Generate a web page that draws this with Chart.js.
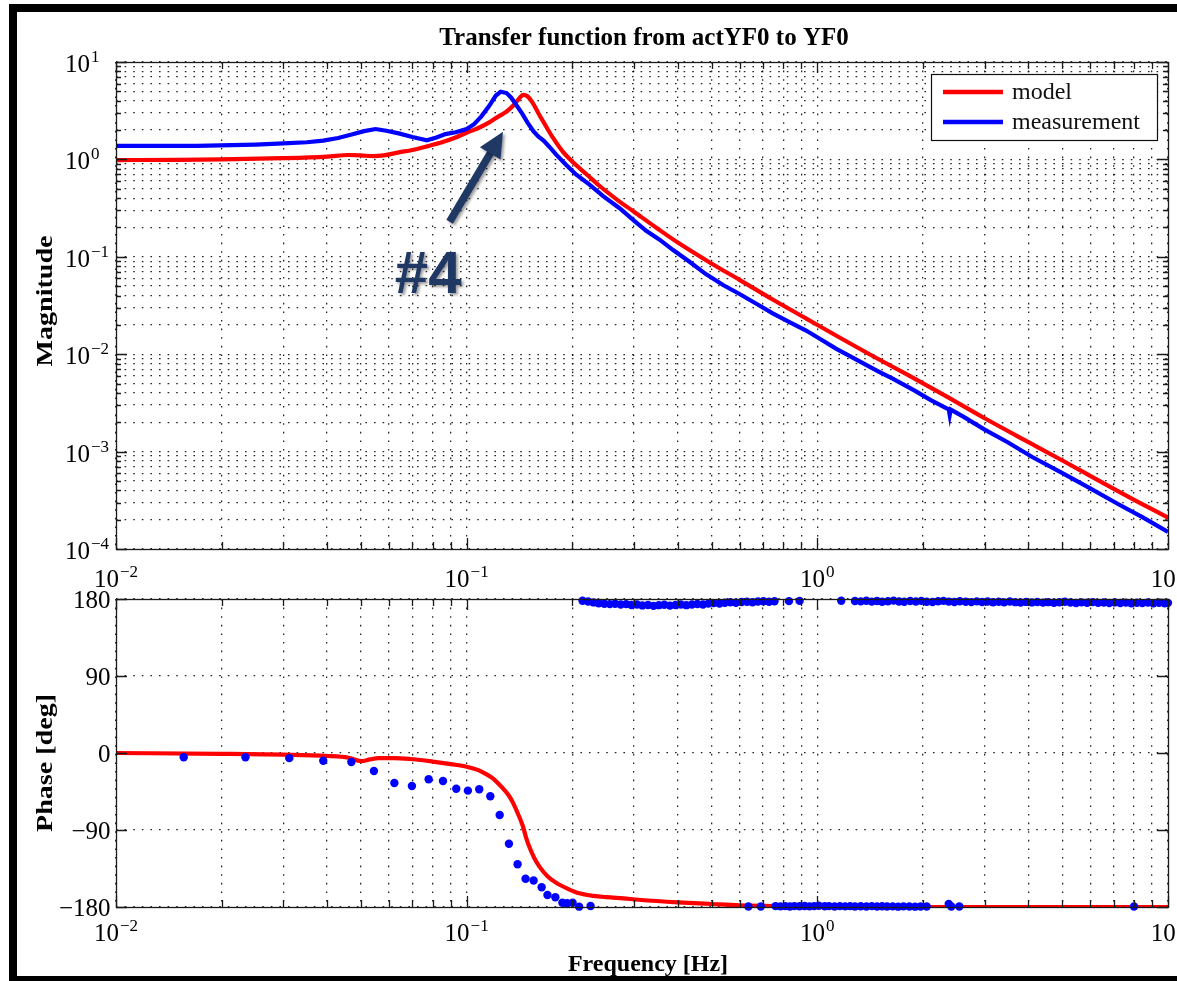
<!DOCTYPE html>
<html>
<head>
<meta charset="utf-8">
<title>Transfer function from actYF0 to YF0</title>
<script src="https://cdn.jsdelivr.net/npm/chart.js@4.4.0/dist/chart.umd.min.js"></script>
<style>
  html, body { margin: 0; padding: 0; background: #fff; overflow: hidden; }
  #wrap { position: relative; width: 1177px; height: 981px; }
  #wrap canvas { position: absolute; left: 0; top: 0; }
  #frame { position: absolute; left: 9px; top: 4px; width: 1200px; height: 980px;
           border: 8px solid #000; box-sizing: border-box; pointer-events: none; }
</style>
</head>
<body>
<div id="wrap">
  <canvas id="phaseChart" width="1177" height="981"></canvas>
  <canvas id="magChart" width="1177" height="981"></canvas>
  <div id="frame"></div>
</div>
<script>
// ---- data (frequency in Hz) ----
const freqTicks = [0.01, 0.1, 1, 10];
const magTicks = [1e-4, 1e-3, 1e-2, 1e-1, 1, 10];
const phaseTicks = [-180, -90, 0, 90, 180];

const modelFreq = [0.01, 0.015, 0.02, 0.03, 0.04, 0.046, 0.05, 0.054, 0.058, 0.064,
  0.07, 0.077, 0.085, 0.093, 0.1, 0.108, 0.116, 0.123, 0.13, 0.136,
  0.141, 0.145, 0.149, 0.154, 0.16, 0.167, 0.176, 0.188, 0.2, 0.22,
  0.24, 0.27, 0.3, 0.35, 0.4, 0.5, 0.6, 0.75, 0.93, 1.15,
  1.4, 1.8, 2.3, 3, 4, 5, 6.5, 8, 10];
const modelMag = [0.985, 0.99, 1.0, 1.03, 1.07, 1.11, 1.1, 1.08, 1.1, 1.18,
  1.25, 1.36, 1.5, 1.68, 1.88, 2.1, 2.4, 2.75, 3.1, 3.6,
  4.2, 4.6, 4.45, 3.85, 3.0, 2.3, 1.68, 1.2, 0.95, 0.7,
  0.53, 0.38, 0.29, 0.195, 0.14, 0.085, 0.058, 0.036, 0.0232, 0.015,
  0.0101, 0.0062, 0.0038, 0.0022, 0.00125, 0.00081, 0.00048, 0.00032, 0.00021];

const measFreq = [0.01, 0.017, 0.025, 0.03, 0.035, 0.039, 0.043, 0.047, 0.051, 0.055,
  0.059, 0.064, 0.07, 0.077, 0.082, 0.087, 0.093, 0.1, 0.105, 0.11,
  0.116, 0.121, 0.125, 0.13, 0.134, 0.139, 0.144, 0.149, 0.155, 0.16,
  0.166, 0.172, 0.18, 0.192, 0.205, 0.224, 0.245, 0.273, 0.3, 0.325,
  0.355, 0.387, 0.43, 0.482, 0.54, 0.6, 0.67, 0.746, 0.83, 0.929,
  1.03, 1.13, 1.3, 1.5, 1.64, 1.9, 2.1, 2.33, 2.37, 2.385,
  2.4, 2.6, 3.0, 3.5, 4.1, 5, 6, 7.2, 8.5, 10];
const measMag = [1.38, 1.38, 1.42, 1.46, 1.5, 1.56, 1.66, 1.8, 1.95, 2.05,
  1.97, 1.85, 1.7, 1.57, 1.68, 1.82, 1.9, 2.05, 2.3, 2.75,
  3.55, 4.5, 4.95, 4.8, 4.3, 3.55, 2.95, 2.4, 1.95, 1.72,
  1.55, 1.35, 1.12, 0.88, 0.7, 0.55, 0.42, 0.315, 0.235, 0.185,
  0.15, 0.118, 0.09, 0.066, 0.051, 0.0415, 0.033, 0.0263, 0.0215, 0.0175,
  0.014, 0.0114, 0.0087, 0.0066, 0.0056, 0.0042, 0.0034, 0.0028, 0.00272, 0.00238,
  0.0027, 0.0023, 0.00168, 0.00124, 0.00088, 0.0006, 0.00042, 0.00029, 0.00021, 0.00015];

const modelPhaseFreq = [0.01, 0.02, 0.03, 0.04, 0.046, 0.05, 0.053, 0.056, 0.062, 0.069,
  0.075, 0.08, 0.09, 0.1, 0.108, 0.114, 0.119, 0.124, 0.128, 0.132,
  0.1355, 0.139, 0.1445, 0.148, 0.1517, 0.156, 0.162, 0.17, 0.1804, 0.195,
  0.2093, 0.23, 0.25, 0.28, 0.309, 0.4, 0.5, 0.6, 0.8, 1,
  2, 5, 10];
const modelPhase = [0, -1, -2, -3.5, -5.5, -9.5, -7.5, -6, -6, -7,
  -8.5, -10, -13, -16, -20, -25, -30, -37, -43, -50,
  -58, -68, -85, -100, -112, -123, -134, -144, -152, -159,
  -164, -167, -168.5, -170, -171.5, -174.5, -176.5, -178, -179, -179.5,
  -180, -180, -180];

// measured phase below the resonance
const measPhaseFreqLow = [0.0156, 0.0234, 0.0312, 0.039, 0.0469, 0.0544, 0.0622, 0.0698, 0.0779, 0.0856,
  0.0934, 0.1008, 0.1086, 0.1168, 0.1242, 0.132, 0.1397, 0.1472, 0.1552, 0.1636,
  0.170, 0.179, 0.1875, 0.1935, 0.2005, 0.2093, 0.2256];
const measPhaseLow = [-5, -5, -6, -9, -10.5, -21, -35, -38.6, -30.7, -32.7,
  -41.7, -44, -42.4, -50.6, -72.5, -106, -130, -147, -149, -157,
  -166, -168.6, -175, -175.7, -175, -179.6, -178.8];

// measured phase wrapped to just under +180
const measPhaseFreqWrap = [0.214, 0.222, 0.23, 0.238, 0.247, 0.256, 0.265, 0.275, 0.285, 0.295,
  0.306, 0.317, 0.329, 0.341, 0.353, 0.366, 0.38, 0.394, 0.408, 0.423,
  0.439, 0.455, 0.472, 0.489, 0.507, 0.526, 0.545, 0.565, 0.586, 0.608,
  0.63, 0.653, 0.677, 0.702, 0.728, 0.755, 0.83, 0.89, 1.17, 1.28,
  1.33, 1.38, 1.43, 1.48, 1.53, 1.59, 1.65, 1.71, 1.77, 1.84,
  1.91, 1.98, 2.05, 2.13, 2.21, 2.29, 2.37, 2.46, 2.55, 2.65,
  2.75, 2.85, 2.95, 3.06, 3.17, 3.29, 3.41, 3.54, 3.67, 3.8,
  3.94, 4.09, 4.24, 4.4, 4.56, 4.73, 4.9, 5.08, 5.27, 5.47,
  5.67, 5.88, 6.1, 6.32, 6.56, 6.8, 7.05, 7.31, 7.58, 7.86,
  8.15, 8.45, 8.77, 9.09, 9.43, 9.78, 10];
const measPhaseWrap = [178, 177, 176, 175, 174.5, 174, 174.5, 173.5, 174, 173,
  173.5, 172.5, 173, 172, 172.8, 173.2, 172.3, 173, 173.6, 172.8,
  173.6, 174.2, 173.6, 174.6, 175.2, 174.6, 175.6, 176.2, 175.6, 176.5,
  176.8, 176.2, 177, 177.3, 176.8, 177.4, 177.5, 177.8, 178, 177.6,
  177.2, 177.9, 176.9, 177.6, 176.7, 177.4, 178.1, 177.1, 176.7, 177.6,
  177, 177.8, 176.8, 176.5, 177.3, 177.8, 176.9, 176.5, 177.4, 176.8,
  176.4, 177.2, 176.5, 177.1, 176.2, 176.8, 176.1, 177, 176.3, 175.9,
  176.6, 176, 176.5, 175.8, 176.3, 175.7, 176.2, 176.7, 175.9, 175.4,
  176.1, 175.6, 176.4, 175.5, 175.9, 175.3, 176, 175.4, 175.8, 175.1,
  175.7, 175.2, 175.9, 175, 175.6, 175.1, 175.5];

// measured phase settled near -180
const measPhaseFreqHigh = [0.636, 0.69, 0.76, 0.785, 0.81, 0.835, 0.86, 0.89, 0.92, 0.95,
  0.98, 1.01, 1.05, 1.08, 1.12, 1.16, 1.2, 1.24, 1.28, 1.33,
  1.38, 1.43, 1.48, 1.53, 1.58, 1.64, 1.7, 1.76, 1.83, 1.9,
  1.97, 2.05, 2.37, 2.41, 2.54, 8.0];
const measPhaseHigh = [-179.5, -179.5, -179, -179.3, -179, -179.4, -179, -179.2, -178.8, -179.3,
  -179, -178.6, -179.2, -179, -179.4, -179, -179.3, -179, -179.5, -179.2,
  -179.4, -179, -179.5, -179.2, -179.5, -179.3, -179.6, -179.3, -179.5, -179.6,
  -179.4, -179.5, -176.5, -179.5, -179.5, -179.5];

// ---- styling helpers ----
const SERIF = '"Liberation Serif", "Times New Roman", serif';
const NAVY = '#1f3864';

const pts = (xs, ys) => xs.map((x, i) => ({ x, y: ys[i] }));

function isDecade(v) {
  const l = Math.log10(v);
  return Math.abs(l - Math.round(l)) < 1e-6;
}

// 1..9 x 10^n positions for the dotted grid
function logGrid(min, max) {
  const out = [];
  for (let e = Math.round(Math.log10(min)); e < Math.round(Math.log10(max)); e++) {
    for (let k = 1; k < 10; k++) out.push(+(k * Math.pow(10, e)).toPrecision(6));
  }
  out.push(max);
  return out;
}

const gridStyle = { color: 'rgba(0,0,0,0.85)', lineWidth: 1.3, drawTicks: false };
const dotted = { display: false, dash: [1.6, 7] };

function logAxis(min, max) {
  return {
    type: 'logarithmic', min, max,
    ticks: { display: false },
    grid: gridStyle,
    border: dotted,
    afterBuildTicks: s => { s.ticks = logGrid(min, max).map(value => ({ value })); },
    afterFit: s => { if (s.isHorizontal()) s.height = 0; else s.width = 0; }
  };
}

function drawPow10(ctx, exp, x, baseY, centered) {
  const sup = exp < 0 ? '\u2212' + Math.abs(exp) : String(exp);
  ctx.font = '25px ' + SERIF;
  const wb = ctx.measureText('10').width;
  ctx.font = '17px ' + SERIF;
  const ws = ctx.measureText(sup).width;
  const x0 = centered ? x - (wb + ws + 1) / 2 : x;
  ctx.textAlign = 'left';
  ctx.textBaseline = 'alphabetic';
  ctx.font = '25px ' + SERIF;
  ctx.fillText('10', x0, baseY);
  ctx.font = '17px ' + SERIF;
  ctx.fillText(sup, x0 + wb + 1, baseY - 10);
}

// box, inward tick marks on all four sides
function drawBox(chart) {
  const { ctx, chartArea: a, scales: { x, y } } = chart;
  ctx.save();
  ctx.strokeStyle = '#1a1a1a';
  ctx.lineWidth = 1.3;
  ctx.beginPath();
  x.ticks.forEach(t => {
    const px = Math.round(x.getPixelForValue(t.value)) + 0.5;
    const len = isDecade(t.value) ? 11 : 7;
    ctx.moveTo(px, a.bottom); ctx.lineTo(px, a.bottom - len);
    ctx.moveTo(px, a.top); ctx.lineTo(px, a.top + len);
  });
  y.ticks.forEach(t => {
    const py = Math.round(y.getPixelForValue(t.value)) + 0.5;
    const len = (y.type === 'logarithmic' && !isDecade(t.value)) ? 5 : 11;
    ctx.moveTo(a.left, py); ctx.lineTo(a.left + len, py);
    ctx.moveTo(a.right, py); ctx.lineTo(a.right - len, py);
  });
  ctx.stroke();
  ctx.strokeRect(Math.round(a.left) + 0.5, Math.round(a.top) + 0.5, Math.round(a.width), Math.round(a.height));
  ctx.restore();
}

function drawFreqLabels(chart, dy) {
  const { ctx, chartArea: a, scales: { x } } = chart;
  ctx.save();
  ctx.fillStyle = '#000';
  freqTicks.forEach(f => drawPow10(ctx, Math.round(Math.log10(f)), x.getPixelForValue(f), a.bottom + dy, true));
  ctx.restore();
}

// vertical axis title, a little elongated along its length
function drawRotated(ctx, text, cx, cy) {
  ctx.save();
  ctx.translate(cx, cy);
  ctx.rotate(-Math.PI / 2);
  ctx.scale(1.17, 1);
  ctx.textAlign = 'center';
  ctx.textBaseline = 'alphabetic';
  ctx.fillText(text, 0, 0);
  ctx.restore();
}

function drawLegend(chart) {
  const { ctx, chartArea: a } = chart;
  const w = 226, h = 66;
  const left = a.right - 237, top = a.top + 12;
  ctx.save();
  ctx.fillStyle = '#fff';
  ctx.fillRect(left, top, w, h);
  ctx.strokeStyle = '#111';
  ctx.lineWidth = 1.2;
  ctx.strokeRect(left + 0.5, top + 0.5, w, h);
  chart.data.datasets.forEach((ds, i) => {
    const yy = top + 18 + i * 30;
    ctx.strokeStyle = ds.borderColor;
    ctx.lineWidth = 4.5;
    ctx.beginPath();
    ctx.moveTo(left + 12, yy);
    ctx.lineTo(left + 72, yy);
    ctx.stroke();
    ctx.fillStyle = '#111';
    ctx.font = '24px ' + SERIF;
    ctx.textAlign = 'left';
    ctx.textBaseline = 'middle';
    ctx.fillText(ds.label, left + 81, yy + 1);
  });
  ctx.restore();
}

// arrow and "#4" marker pointing at the resonance
function drawMarker(chart) {
  const { ctx, scales: { x, y } } = chart;
  const tip = [x.getPixelForValue(0.1269), y.getPixelForValue(1.92)];
  const tail = [x.getPixelForValue(0.0894), y.getPixelForValue(0.229)];
  const ang = Math.atan2(tip[1] - tail[1], tip[0] - tail[0]);
  const c = Math.cos(ang), s = Math.sin(ang);
  const headLen = 25, headHalf = 12;
  const bx = tip[0] - headLen * c, by = tip[1] - headLen * s;
  ctx.save();
  ctx.shadowColor = 'rgba(0,0,0,0.4)';
  ctx.shadowBlur = 3;
  ctx.shadowOffsetX = 2;
  ctx.shadowOffsetY = 2;
  ctx.strokeStyle = NAVY;
  ctx.fillStyle = NAVY;
  ctx.lineWidth = 7.5;
  ctx.beginPath();
  ctx.moveTo(tail[0], tail[1]);
  ctx.lineTo(bx + 2 * c, by + 2 * s);
  ctx.stroke();
  ctx.beginPath();
  ctx.moveTo(tip[0], tip[1]);
  ctx.lineTo(bx - headHalf * s, by + headHalf * c);
  ctx.lineTo(bx + headHalf * s, by - headHalf * c);
  ctx.closePath();
  ctx.fill();
  ctx.font = 'bold 60px "Liberation Sans", Arial, sans-serif';
  ctx.textAlign = 'left';
  ctx.textBaseline = 'alphabetic';
  ctx.fillText('#4', x.getPixelForValue(0.0624), y.getPixelForValue(0.0425));
  ctx.restore();
}

const magDecor = {
  id: 'magDecor',
  afterDraw(chart) {
    const { ctx, chartArea: a, scales: { y } } = chart;
    drawBox(chart);
    ctx.save();
    ctx.fillStyle = '#000';
    magTicks.forEach(m => drawPow10(ctx, Math.round(Math.log10(m)), a.left - 51, y.getPixelForValue(m) + 10, false));
    ctx.font = 'bold 25px ' + SERIF;
    ctx.textAlign = 'center';
    ctx.textBaseline = 'alphabetic';
    ctx.fillText('Transfer function from actYF0 to YF0', (a.left + a.right) / 2 + 2, 45);
    ctx.font = 'bold 24px ' + SERIF;
    drawRotated(ctx, 'Magnitude', 52, 301);
    ctx.restore();
    drawFreqLabels(chart, 38);
    drawLegend(chart);
    drawMarker(chart);
  }
};

const phaseDecor = {
  id: 'phaseDecor',
  afterDraw(chart) {
    const { ctx, chartArea: a, scales: { y } } = chart;
    drawBox(chart);
    ctx.save();
    ctx.fillStyle = '#000';
    ctx.font = '25px ' + SERIF;
    ctx.textAlign = 'right';
    ctx.textBaseline = 'alphabetic';
    phaseTicks.forEach(p => {
      const txt = p < 0 ? '\u2212' + Math.abs(p) : String(p);
      ctx.fillText(txt, a.left - 5.5, y.getPixelForValue(p) + 9);
    });
    ctx.font = 'bold 24px ' + SERIF;
    drawRotated(ctx, 'Phase [deg]', 52, 763);
    ctx.textAlign = 'center';
    ctx.fillText('Frequency [Hz]', 648, 971);
    ctx.restore();
    drawFreqLabels(chart, 34);
  }
};

const common = {
  responsive: false,
  animation: false,
  events: [],
  plugins: { legend: { display: false }, tooltip: { enabled: false } }
};

new Chart(document.getElementById('magChart'), {
  type: 'line',
  data: {
    datasets: [
      { label: 'model', data: pts(modelFreq, modelMag), borderColor: '#ff0000', borderWidth: 4.2,
        pointRadius: 0, cubicInterpolationMode: 'monotone', order: 1 },
      { label: 'measurement', data: pts(measFreq, measMag), borderColor: '#0000ff', borderWidth: 4.2,
        pointRadius: 0, order: 0 }
    ]
  },
  options: {
    ...common,
    layout: { padding: { left: 116, top: 62, right: 9, bottom: 432 } },
    scales: { x: logAxis(0.01, 10), y: logAxis(1e-4, 10) }
  },
  plugins: [magDecor]
});

new Chart(document.getElementById('phaseChart'), {
  type: 'scatter',
  data: {
    datasets: [
      { label: 'model', data: pts(modelPhaseFreq, modelPhase), showLine: true, borderColor: '#ff0000',
        borderWidth: 4.2, pointRadius: 0, cubicInterpolationMode: 'monotone', order: 1 },
      { label: 'measurement',
        data: pts(measPhaseFreqLow, measPhaseLow)
          .concat(pts(measPhaseFreqWrap, measPhaseWrap), pts(measPhaseFreqHigh, measPhaseHigh)),
        backgroundColor: '#0000ff', borderWidth: 0, pointRadius: 4.2, clip: 8, order: 0 }
    ]
  },
  options: {
    ...common,
    layout: { padding: { left: 116, top: 599, right: 9, bottom: 74 } },
    scales: {
      x: logAxis(0.01, 10),
      y: {
        type: 'linear', min: -180, max: 180,
        ticks: { display: false },
        grid: gridStyle,
        border: dotted,
        afterBuildTicks: s => { s.ticks = phaseTicks.map(value => ({ value })); },
        afterFit: s => { s.width = 0; }
      }
    }
  },
  plugins: [phaseDecor]
});
</script>
</body>
</html>
